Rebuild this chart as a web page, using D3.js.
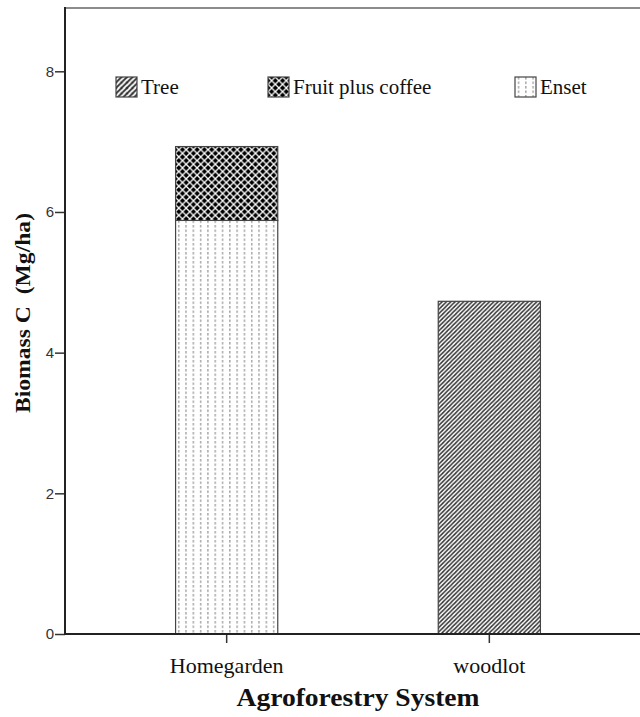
<!DOCTYPE html>
<html>
<head>
<meta charset="utf-8">
<script src="https://cdn.jsdelivr.net/npm/d3@7"></script>
<style>
  html, body { margin: 0; padding: 0; background: #fff; }
  svg { display: block; }
</style>
</head>
<body>
<svg id="chart" width="640" height="717"></svg>
<script>
// ---- data ----
const categories = ["Homegarden", "woodlot"];
const seriesKeys = ["Tree", "Fruit plus coffee", "Enset"];
const treeValues = [0, 4.73];
const fruitValues = [1.05, 0];
const ensetValues = [5.88, 0];
const yTicks = [0, 2, 4, 6, 8];

(function () {
const rows = categories.map((c, i) => ({
  category: c,
  "Tree": treeValues[i],
  "Fruit plus coffee": fruitValues[i],
  "Enset": ensetValues[i]
}));

const svg = d3.select("#chart");
const W = 640;
const plotLeft = 65, plotTop = 8, plotBottom = 634;
const serif = "Liberation Serif, Times New Roman, serif";

const defs = svg.append("defs");
// Tree: diagonal "/" stripes
const pTree = defs.append("pattern").attr("id", "p-tree")
  .attr("patternUnits", "userSpaceOnUse").attr("width", 4.3).attr("height", 4.3);
pTree.append("rect").attr("width", 4.3).attr("height", 4.3).attr("fill", "#fff");
pTree.append("path").attr("d", "M-1,1.075 L1.075,-1 M0,4.3 L4.3,0 M3.225,5.3 L5.3,3.225")
  .attr("stroke", "#2e2e2e").attr("stroke-width", 1.4);
// Tree legend swatch: slightly coarser stripes
const pTreeL = defs.append("pattern").attr("id", "p-tree-l")
  .attr("patternUnits", "userSpaceOnUse").attr("width", 5.5).attr("height", 5.5);
pTreeL.append("rect").attr("width", 5.5).attr("height", 5.5).attr("fill", "#fff");
pTreeL.append("path").attr("d", "M-1,1.375 L1.375,-1 M0,5.5 L5.5,0 M4.125,6.5 L6.5,4.125")
  .attr("stroke", "#2e2e2e").attr("stroke-width", 1.8);
// Fruit plus coffee: black with white diagonal lattice
const s = 7.3;
const pFruit = defs.append("pattern").attr("id", "p-fruit")
  .attr("patternUnits", "userSpaceOnUse").attr("width", s).attr("height", s);
pFruit.append("rect").attr("width", s).attr("height", s).attr("fill", "#000");
pFruit.append("path").attr("d", `M0,0 L${s},${s} M0,${s} L${s},0`)
  .attr("stroke", "#fff").attr("stroke-width", 1.3);
// Enset: vertical dotted lines
const pEnset = defs.append("pattern").attr("id", "p-enset")
  .attr("patternUnits", "userSpaceOnUse").attr("width", 7.3).attr("height", 4.5);
pEnset.append("rect").attr("width", 7.3).attr("height", 4.5).attr("fill", "#fff");
pEnset.append("rect").attr("x", 3).attr("y", 0).attr("width", 1.1).attr("height", 2.5).attr("fill", "#888");

const fills = { "Tree": "url(#p-tree)", "Fruit plus coffee": "url(#p-fruit)", "Enset": "url(#p-enset)" };
const legendFills = { "Tree": "url(#p-tree-l)", "Fruit plus coffee": "url(#p-fruit)", "Enset": "url(#p-enset)" };

// ---- scales ----
const x = d3.scaleBand().domain(categories).range([plotLeft, 651])
  .paddingInner(0.611).paddingOuter(0.421);
const y = d3.scaleLinear().domain([0, 8.9]).range([plotBottom, plotTop]);

// frame top line
svg.append("line").attr("x1", plotLeft).attr("x2", W).attr("y1", plotTop).attr("y2", plotTop)
  .attr("stroke", "#8c8c8c").attr("stroke-width", 2);

// ---- bars ----
const stack = d3.stack().keys(["Enset", "Fruit plus coffee", "Tree"]);
const stacked = stack(rows);
stacked.forEach(layer => {
  svg.append("g").selectAll("rect")
    .data(layer.filter(d => d[1] - d[0] > 0))
    .join("rect")
    .attr("x", d => x(d.data.category))
    .attr("width", x.bandwidth())
    .attr("y", d => y(d[1]))
    .attr("height", d => y(d[0]) - y(d[1]))
    .attr("fill", fills[layer.key])
    .attr("stroke", "#444")
    .attr("stroke-width", 1.2);
});

// ---- axes ----
const yAxis = svg.append("g").attr("transform", `translate(${plotLeft},0)`)
  .call(d3.axisLeft(y).tickValues(yTicks).tickSize(10).tickPadding(1).tickSizeOuter(0));
yAxis.select(".domain").remove();
yAxis.selectAll(".tick line").attr("stroke", "#333").attr("stroke-width", 1.5);
yAxis.selectAll(".tick text").attr("font-family", "Liberation Sans, Arial, sans-serif")
  .attr("font-size", 15).attr("fill", "#333");
svg.append("line").attr("x1", plotLeft).attr("x2", plotLeft).attr("y1", plotTop - 1).attr("y2", plotBottom + 1)
  .attr("stroke", "#222").attr("stroke-width", 2);

const xAxis = svg.append("g").attr("transform", `translate(0,${plotBottom})`)
  .call(d3.axisBottom(x).tickSize(9).tickPadding(14).tickSizeOuter(0));
xAxis.select(".domain").remove();
xAxis.selectAll(".tick line").attr("stroke", "#333").attr("stroke-width", 1.5);
xAxis.selectAll(".tick text").attr("font-family", serif)
  .attr("font-size", 22).attr("fill", "#111");
svg.append("line").attr("x1", plotLeft - 1).attr("x2", W).attr("y1", plotBottom).attr("y2", plotBottom)
  .attr("stroke", "#222").attr("stroke-width", 2);

// axis titles
svg.append("text").attr("x", 358).attr("y", 706).attr("text-anchor", "middle")
  .attr("font-family", serif)
  .attr("font-weight", "bold").attr("font-size", 26).attr("fill", "#111")
  .attr("textLength", 243).attr("lengthAdjust", "spacingAndGlyphs")
  .text("Agroforestry System");
svg.append("text").attr("transform", "translate(30,313) rotate(-90)")
  .attr("text-anchor", "middle")
  .attr("font-family", serif)
  .attr("font-weight", "bold").attr("font-size", 21).attr("fill", "#111")
  .attr("xml:space", "preserve")
  .attr("textLength", 200).attr("lengthAdjust", "spacingAndGlyphs")
  .text("Biomass C  (Mg/ha)");

// ---- legend ----
const legendX = [116, 268, 515];
const legend = svg.append("g").selectAll("g").data(seriesKeys).join("g")
  .attr("transform", (d, i) => `translate(${legendX[i]},77)`);
legend.append("rect").attr("width", 21).attr("height", 20)
  .attr("fill", d => legendFills[d]).attr("stroke", "#444").attr("stroke-width", 1.2);
legend.append("text").attr("x", 25).attr("y", 17)
  .attr("font-family", serif)
  .attr("font-size", 21).attr("fill", "#111")
  .text(d => d);
})();
</script>
</body>
</html>
